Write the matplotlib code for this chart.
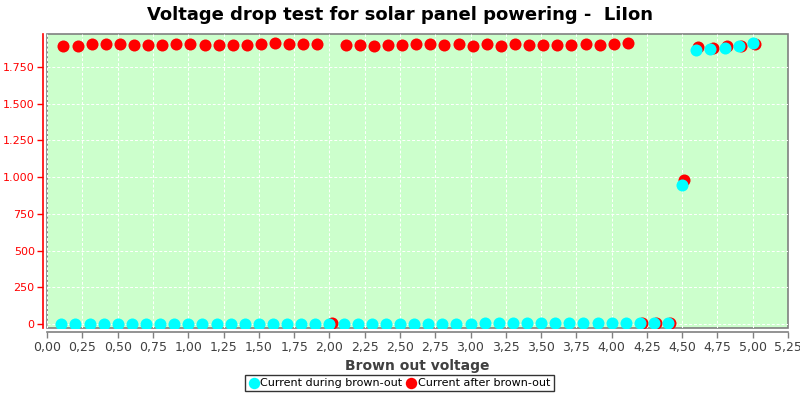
import matplotlib
matplotlib.use('Agg')
import matplotlib.pyplot as plt
from matplotlib.ticker import FuncFormatter, MultipleLocator


# Data: current during brown-out (cyan)
during_v = [0.1, 0.2, 0.3, 0.4, 0.5, 0.6, 0.7, 0.8, 0.9, 1.0,
            1.1, 1.2, 1.3, 1.4, 1.5, 1.6, 1.7, 1.8, 1.9, 2.0,
            2.1, 2.2, 2.3, 2.4, 2.5, 2.6, 2.7, 2.8, 2.9, 3.0,
            3.1, 3.2, 3.3, 3.4, 3.5, 3.6, 3.7, 3.8, 3.9, 4.0,
            4.1, 4.2, 4.3, 4.4, 4.5, 4.6, 4.7, 4.8, 4.9, 5.0]
during_i = [0, 0, 0, 0, 0, 0, 0, 0, 0, 0,
            0, 0, 0, 0, 0, 0, 0, 0, 0, 0,
            0, 0, 0, 0, 0, 0, 0, 0, 0, 0,
            8, 10, 10, 10, 10, 10, 10, 10, 10, 10,
            10, 10, 10, 10, 945, 1865, 1875, 1880, 1893, 1912]

# Data: current after brown-out (red)
after_v = [0.115, 0.215, 0.315, 0.415, 0.515, 0.615, 0.715, 0.815, 0.915, 1.015,
           1.115, 1.215, 1.315, 1.415, 1.515, 1.615, 1.715, 1.815, 1.915, 2.015,
           2.115, 2.215, 2.315, 2.415, 2.515, 2.615, 2.715, 2.815, 2.915, 3.015,
           3.115, 3.215, 3.315, 3.415, 3.515, 3.615, 3.715, 3.815, 3.915, 4.015,
           4.115, 4.215, 4.315, 4.415, 4.515, 4.615, 4.715, 4.815, 4.915, 5.015]
after_i = [1893, 1895, 1905, 1910, 1905, 1897, 1897, 1903, 1910, 1908,
           1903, 1898, 1898, 1902, 1905, 1915, 1910, 1905, 1905, 10,
           1898, 1897, 1895, 1900, 1897, 1905, 1905, 1902, 1907, 1893,
           1905, 1895, 1905, 1903, 1903, 1903, 1903, 1905, 1898, 1907,
           1912, 8, 8, 8, 980, 1885, 1880, 1893, 1890, 1910]


fig = plt.figure(figsize=(8, 4), dpi=100)
ax = fig.add_axes([0.059, 0.18, 0.926, 0.735])

ax.set_facecolor('#CCFFCC')
ax.patch.set_edgecolor('#808080')
ax.patch.set_linewidth(1.2)

ax.scatter(after_v, after_i, s=75, color='#FF0000', zorder=3,
           label='Current after brown-out', linewidths=0)
ax.scatter(during_v, during_i, s=75, color='#00FFFF', zorder=4,
           label='Current during brown-out', linewidths=0)

ax.set_xlim(0, 5.25)
ax.set_ylim(-27, 1975)

ax.xaxis.set_major_locator(MultipleLocator(0.25))
ax.yaxis.set_major_locator(MultipleLocator(250))
ax.xaxis.set_major_formatter(FuncFormatter(lambda v, p: f'{v:.2f}'.replace('.', ',')))
ax.yaxis.set_major_formatter(FuncFormatter(lambda v, p: f'{int(round(v)):,}'.replace(',', '.')))

ax.grid(True, color='white', linestyle='--', linewidth=0.7, dashes=(3, 2))
ax.set_axisbelow(True)

# Spines
ax.spines['top'].set_visible(False)
ax.spines['right'].set_visible(False)
ax.spines['left'].set_position(('outward', 3))
ax.spines['left'].set_color('#FF0000')
ax.spines['left'].set_linewidth(1.2)
ax.spines['bottom'].set_position(('outward', 3))
ax.spines['bottom'].set_color('#808080')
ax.spines['bottom'].set_linewidth(1.2)

ax.tick_params(axis='y', colors='#FF0000', labelsize=8, length=4, width=1, pad=2)
ax.tick_params(axis='x', colors='#808080', labelcolor='#404040', labelsize=9, length=4, width=1, pad=2)

ax.set_xlabel('Brown out voltage', fontsize=10, fontweight='bold', color='#404040', labelpad=4)
fig.suptitle('Voltage drop test for solar panel powering -  LiIon', fontsize=13,
             fontweight='bold', y=0.985)

# Legend (cyan first)
handles, labels = ax.get_legend_handles_labels()
leg = fig.legend(handles[::-1], labels[::-1], loc='lower center', ncol=2,
                 bbox_to_anchor=(0.499, 0.008), frameon=True, fancybox=False,
                 edgecolor='black', fontsize=8, handletextpad=0.1,
                 columnspacing=0.3, borderpad=0.3, handlelength=1.0,
                 markerscale=0.95)
leg.get_frame().set_linewidth(1.0)

fig.savefig('out.png', dpi=100)
